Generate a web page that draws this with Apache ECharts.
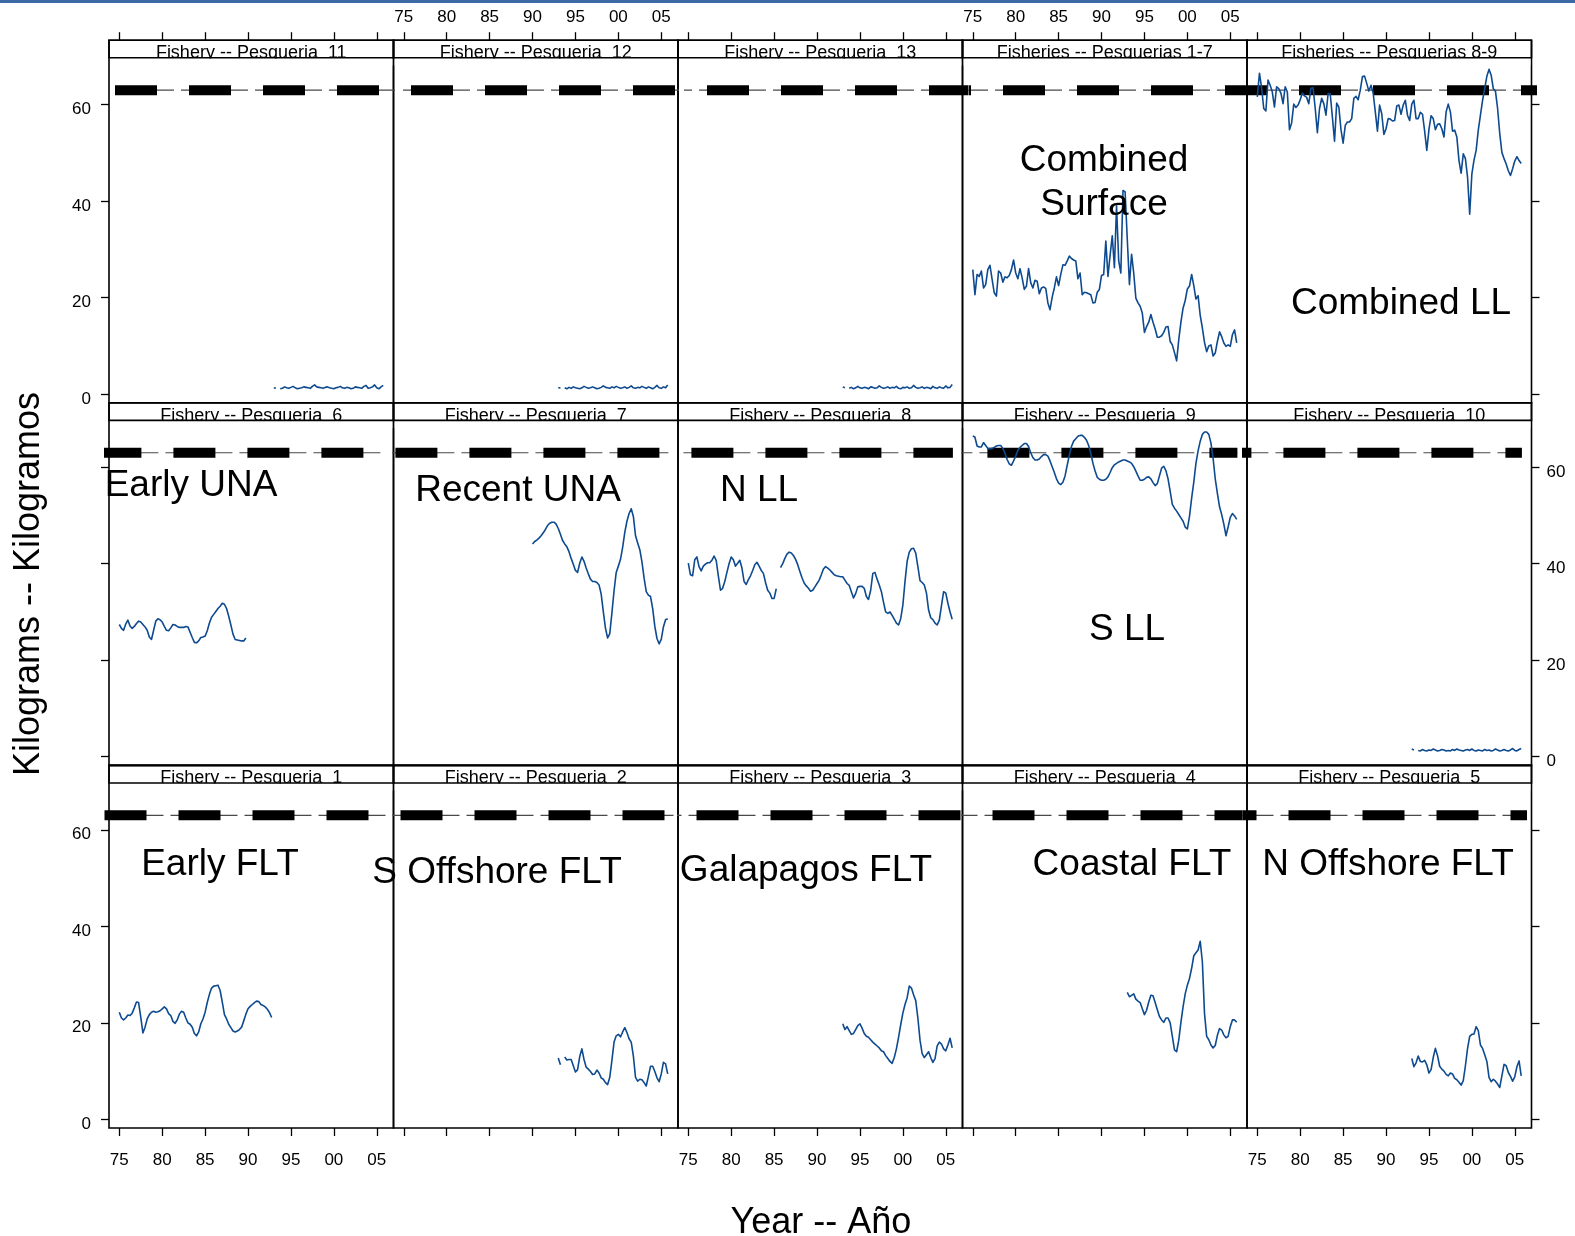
<!DOCTYPE html>
<html>
<head>
<meta charset="utf-8">
<script src="https://cdn.jsdelivr.net/npm/echarts/dist/echarts.min.js"></script>
<style>
  html, body { margin: 0; padding: 0; background: #fff; }
  #chart { width: 1575px; height: 1236px; }
</style>
</head>
<body>
<div id="chart"></div>
<script>
// Average weight (kg) by fishery, quarterly series.

const yearTicks = [1975, 1980, 1985, 1990, 1995, 2000, 2005];
const weightTicks = [0, 20, 40, 60];
const referenceWeight = 63.0;

// Fisheries 1-7 combined, quarterly from 1975
const combinedSurface = [
  25.8,20.6,24.8,24.4,25.5,22.0,22.7,25.8,26.7,23.8,
  21.0,20.3,25.5,25.1,23.2,24.3,24.1,24.6,25.8,27.8,
  25.1,23.9,26.0,24.1,21.7,22.4,26.0,23.1,22.0,23.6,
  23.4,20.8,22.0,22.2,21.9,18.9,17.5,20.1,22.0,24.3,
  22.5,24.8,26.8,26.7,27.6,28.6,28.1,27.8,27.6,23.9,
  25.1,20.6,21.1,21.0,20.8,20.6,18.9,19.0,21.1,21.7,
  24.6,24.8,31.7,24.4,28.8,32.8,26.2,39.0,27.6,25.1,
  42.2,41.9,32.1,22.7,29.0,25.1,19.9,18.9,18.2,16.8,
  12.8,14.0,14.9,16.5,14.9,13.5,11.8,11.8,12.1,12.8,
  13.9,14.0,10.9,10.2,8.6,6.9,11.3,14.9,17.8,19.4,
  21.8,22.4,24.8,22.5,19.7,20.4,16.3,13.7,10.7,8.8,
  10.0,10.2,7.9,8.5,10.9,12.9,11.9,10.6,9.9,10.2,
  9.9,12.3,13.3,10.6
];

// Fisheries 8-9 combined, quarterly from 1975
const combinedLL = [
  61.6,66.5,63.5,59.2,58.7,65.1,64.0,62.6,59.5,63.7,
  63.3,62.4,60.2,63.7,62.6,54.8,56.2,60.1,59.4,59.9,
  61.0,62.4,61.8,61.5,60.2,63.4,63.5,59.2,54.2,59.2,
  61.3,60.2,57.8,62.3,62.2,57.4,52.4,60.3,59.5,54.8,
  52.0,55.7,56.4,56.4,57.1,61.3,61.7,61.0,63.0,65.8,
  65.9,64.4,62.8,64.0,62.4,58.5,54.5,59.9,58.1,53.8,
  55.0,57.1,57.0,56.6,56.7,59.7,59.9,58.0,59.9,60.9,
  57.8,56.7,60.1,60.9,57.1,57.1,58.4,58.0,54.5,50.5,
  54.8,57.7,57.1,54.8,55.9,56.0,55.0,53.3,58.5,60.1,
  58.5,54.5,54.7,53.3,48.4,45.8,49.8,48.8,44.9,37.3,
  45.6,48.5,50.5,54.7,57.8,60.9,63.3,65.9,67.3,66.1,
  63.3,62.8,59.2,54.0,50.1,48.8,47.7,46.3,45.3,46.7,
  48.3,49.2,48.4,47.8
];

// Fishery 6, quarterly from 1975
const earlyUNA = [
  27.4,26.6,26.2,27.5,28.3,27.1,26.6,27.0,27.6,28.1,
  27.9,27.4,26.9,26.2,24.8,24.3,26.2,28.1,28.6,28.4,
  27.9,27.0,26.2,26.1,26.7,27.4,27.3,27.0,26.8,26.8,
  26.8,27.0,26.9,25.8,24.7,23.7,23.6,24.0,24.7,24.8,
  25.0,26.1,27.7,28.9,29.5,30.1,30.7,31.2,31.8,31.6,
  30.7,29.1,27.3,25.4,24.3,24.2,24.1,24.0,24.0,24.6
];

// Fishery 7, quarterly from 1990
const recentUNA = [
  44.1,44.6,44.9,45.3,45.8,46.4,47.1,47.9,48.4,48.6,
  48.6,48.2,47.3,46.1,44.8,44.1,43.5,42.5,41.1,39.9,
  38.6,38.2,40.1,41.4,40.5,39.1,37.9,36.8,36.3,36.3,
  36.1,35.6,33.7,30.0,26.6,24.6,25.5,29.8,34.4,38.2,
  39.5,40.9,43.4,46.5,48.8,50.4,51.4,49.8,45.8,44.3,
  42.9,40.4,37.0,34.2,33.5,33.2,30.7,27.0,24.5,23.4,
  24.3,26.9,28.4,28.6
];

// Fishery 8, quarterly from 1975
const northLL = [
  40.1,37.7,37.5,40.8,41.4,39.4,38.5,39.5,39.9,40.2,
  40.2,40.7,41.6,40.7,37.5,34.5,34.9,36.3,38.2,40.0,
  41.4,40.8,39.5,40.1,40.7,39.1,36.3,35.7,36.7,37.5,
  38.6,39.8,40.3,39.5,38.6,38.0,36.1,34.5,33.9,32.8,
  32.8,34.8,null,39.2,40.0,41.1,42.0,42.4,42.2,41.7,
  40.9,39.8,38.4,37.1,36.0,35.4,34.9,34.3,34.5,35.2,
  35.9,36.6,37.7,38.9,39.4,39.1,38.7,38.2,37.7,37.5,
  37.4,37.3,37.3,36.6,35.9,35.5,34.2,32.9,33.8,35.2,
  35.3,35.3,34.9,33.2,32.6,34.5,38.0,38.2,36.8,35.6,
  34.2,32.0,30.0,29.7,30.0,29.3,28.5,27.7,27.3,28.6,
  31.4,36.3,40.5,42.4,43.1,43.2,42.2,39.4,36.5,36.1,
  35.6,33.9,30.4,28.8,28.4,27.7,27.3,28.3,31.3,34.2,
  33.9,31.8,30.0,28.5
];

// Fishery 9, quarterly from 1975
const southLL = [
  66.5,66.2,64.4,64.2,64.2,65.1,64.5,63.9,63.8,63.9,
  64.1,64.4,64.5,64.5,63.9,62.9,61.6,60.7,60.4,61.3,
  62.3,63.5,64.1,64.5,64.9,64.9,64.3,63.0,62.0,61.5,
  61.5,61.7,62.2,62.6,62.6,62.3,61.3,60.1,58.9,57.6,
  56.7,56.4,56.9,58.2,60.4,62.5,64.3,65.4,65.9,66.4,
  66.6,66.6,66.2,65.6,64.5,62.9,60.8,59.2,57.9,57.5,
  57.3,57.3,57.5,58.0,58.9,59.9,60.5,60.8,61.1,61.3,
  61.5,61.5,61.3,61.1,60.8,60.1,59.2,58.2,57.3,57.3,
  57.5,57.9,58.0,57.6,56.8,56.2,56.6,58.2,59.8,60.2,
  59.3,57.6,55.0,52.3,51.5,50.9,50.2,49.5,48.8,47.6,
  47.2,49.8,53.6,56.9,60.8,63.4,65.4,66.8,67.3,67.3,
  66.8,65.0,61.8,57.6,54.6,51.8,50.2,48.2,45.8,47.6,
  49.6,50.4,49.9,49.2
];

// Fishery 1, quarterly from 1975
const earlyFLT = [
  22.2,21.0,20.6,21.0,21.6,21.5,22.0,23.1,24.3,24.2,
  21.2,17.9,19.1,20.8,21.7,22.2,22.4,22.2,22.3,22.5,
  22.9,23.3,22.9,21.9,21.5,20.3,19.9,20.6,21.8,22.4,
  22.2,21.0,20.0,19.7,19.1,17.8,17.3,18.1,19.8,20.8,
  22.2,24.2,25.9,27.2,27.6,27.7,27.8,26.7,24.3,21.7,
  20.8,19.7,19.0,18.3,18.1,18.3,18.6,19.1,20.4,21.8,
  22.9,23.4,23.8,24.2,24.5,24.4,23.8,23.6,23.3,22.8,
  22.1,21.1
];

// Fisheries 2-5 and 10-13, quarterly from 1993
const southOffshoreFLT = [
  12.7,11.3,null,12.9,12.3,12.4,12.4,11.1,9.8,10.3,
  13.0,14.6,12.4,10.8,10.4,9.9,9.3,9.4,10.2,9.6,
  8.6,8.3,7.6,7.2,8.7,12.2,16.0,17.3,17.6,17.1,
  18.1,19.0,18.0,16.7,16.0,13.1,8.7,7.9,8.3,8.2,
  7.6,6.9,8.9,11.0,11.0,9.9,8.6,7.8,9.4,11.8,
  11.5,9.4
];
const galapagosFLT = [
  19.8,18.6,19.2,18.4,17.6,17.8,18.6,19.4,19.8,18.9,
  17.8,17.2,17.0,16.5,16.0,15.6,15.2,14.8,14.2,14.0,
  13.2,12.6,12.0,11.6,12.8,14.6,17.0,19.6,22.0,23.8,
  25.2,27.6,27.2,25.8,24.6,21.0,16.4,13.6,12.8,13.4,
  14.0,12.8,11.8,12.6,15.2,16.0,15.6,14.6,14.2,15.4,
  16.8,14.8
];
const coastalFLT = [
  26.3,25.4,25.7,26.0,24.9,24.5,24.2,22.9,21.7,22.6,
  24.3,25.7,25.6,24.2,22.7,21.3,20.6,20.1,21.0,21.0,
  20.0,17.2,14.4,14.0,16.4,20.1,23.3,26.0,27.8,29.2,
  31.3,33.9,34.5,35.1,36.9,32.6,21.9,17.2,16.5,15.4,
  14.8,15.3,17.4,18.8,18.5,17.5,16.9,17.2,19.2,20.6,
  20.6,20.1
];
const northOffshoreFLT = [
  12.6,10.9,11.7,13.1,12.0,11.9,12.2,11.3,9.6,10.3,
  12.8,14.7,13.2,11.0,10.4,10.0,9.3,9.0,9.6,9.4,
  8.5,8.2,7.7,7.1,8.0,11.1,14.7,17.2,17.6,17.7,
  19.2,18.4,15.4,14.7,13.4,12.0,8.7,7.8,8.3,7.9,
  7.3,6.6,9.0,11.4,11.1,9.7,8.9,7.9,8.8,10.9,
  12.1,9.0
];
const discard10 = [
  1.6,1.4,null,1.3,1.2,1.5,1.3,1.2,1.4,1.3,
  1.6,1.4,1.2,1.3,1.5,1.4,1.2,1.3,1.2,1.5,
  1.3,1.6,1.4,1.3,1.2,1.4,1.5,1.3,1.6,1.3,
  1.2,1.4,1.3,1.2,1.5,1.3,1.4,1.2,1.3,1.6,
  1.4,1.2,1.3,1.5,1.3,1.2,1.4,1.7,1.3,1.2,
  1.5,1.7
];
const discard11 = [
  1.3,1.2,null,1.1,1.2,1.5,1.3,1.2,1.4,1.6,
  1.3,1.1,1.2,1.3,1.5,1.4,1.3,1.2,1.6,1.9,
  1.5,1.4,1.3,1.2,1.4,1.5,1.3,1.2,1.1,1.3,
  1.4,1.6,1.3,1.2,1.4,1.3,1.1,1.2,1.5,1.4,
  1.3,1.2,1.6,1.8,1.2,1.3,1.5,1.9,1.3,1.1,
  1.5,1.8
];
const discard12 = [
  1.4,1.2,null,1.3,1.1,1.4,1.2,1.5,1.3,1.2,
  1.1,1.3,1.6,1.4,1.2,1.3,1.5,1.3,1.1,1.2,
  1.4,1.7,1.4,1.3,1.2,1.5,1.3,1.6,1.4,1.2,
  1.3,1.5,1.2,1.4,1.7,1.3,1.2,1.4,1.3,1.6,
  1.4,1.2,1.5,1.3,1.1,1.4,1.8,1.3,1.2,1.5,
  1.3,1.9
];
const discard13 = [
  1.5,1.3,null,1.2,1.4,1.1,1.3,1.6,1.3,1.2,
  1.4,1.3,1.1,1.5,1.4,1.2,1.3,1.7,1.4,1.2,
  1.3,1.5,1.2,1.4,1.3,1.6,1.2,1.1,1.4,1.3,
  1.5,1.2,1.3,1.8,1.4,1.2,1.3,1.5,1.2,1.4,
  1.3,1.1,1.6,1.3,1.2,1.5,1.3,1.2,1.7,1.3,
  1.4,2.0
];

// Panels in row-major order (top row first)
const panels = [
  { strip: 'Fishery -- Pesqueria  11', start: 1993, values: discard11 },
  { strip: 'Fishery -- Pesqueria  12', start: 1993, values: discard12 },
  { strip: 'Fishery -- Pesqueria  13', start: 1993, values: discard13 },
  { strip: 'Fisheries -- Pesquerias 1-7', start: 1975, values: combinedSurface },
  { strip: 'Fisheries -- Pesquerias 8-9', start: 1975, values: combinedLL },
  { strip: 'Fishery -- Pesqueria  6', start: 1975, values: earlyUNA },
  { strip: 'Fishery -- Pesqueria  7', start: 1990, values: recentUNA },
  { strip: 'Fishery -- Pesqueria  8', start: 1975, values: northLL },
  { strip: 'Fishery -- Pesqueria  9', start: 1975, values: southLL },
  { strip: 'Fishery -- Pesqueria  10', start: 1993, values: discard10 },
  { strip: 'Fishery -- Pesqueria  1', start: 1975, values: earlyFLT },
  { strip: 'Fishery -- Pesqueria  2', start: 1993, values: southOffshoreFLT },
  { strip: 'Fishery -- Pesqueria  3', start: 1993, values: galapagosFLT },
  { strip: 'Fishery -- Pesqueria  4', start: 1993, values: coastalFLT },
  { strip: 'Fishery -- Pesqueria  5', start: 1993, values: northOffshoreFLT }
];

// Large in-panel names (page pixel positions of the text centre)
const panelNames = [
  { text: 'Combined\nSurface', x: 1104, y: 182.5 },
  { text: 'Combined LL', x: 1401, y: 303.5 },
  { text: 'Early UNA', x: 191, y: 485.5 },
  { text: 'Recent UNA', x: 518, y: 490.5 },
  { text: 'N LL', x: 759, y: 490.5 },
  { text: 'S LL', x: 1127, y: 629.5 },
  { text: 'Early FLT', x: 220, y: 864.5 },
  { text: 'S Offshore FLT', x: 497, y: 872.5 },
  { text: 'Galapagos FLT', x: 806, y: 870.5 },
  { text: 'Coastal FLT', x: 1132, y: 864.5 },
  { text: 'N Offshore FLT', x: 1388, y: 864.5 }
];

// ---- layout ----
const FONT = "'Liberation Sans', Arial, Helvetica, sans-serif";
const L = { left: 109, top: 40.2, colW: 284.5, rowH: 362.6, stripH: 17.6, cols: 5, rows: 3 };
const X_MIN = 1973.8, X_MAX = 2006.95;
const Y_MIN = -1.8, Y_MAX_PLOT = 69.7;
const pxPerUnit = (L.rowH - L.stripH) / (Y_MAX_PLOT - Y_MIN);
const Y_MAX = Y_MAX_PLOT + L.stripH / pxPerUnit;   // strip sits inside the grid box
const pxPerYear = L.colW / (X_MAX - X_MIN);
const refShiftPx = [6, -9.6, -4.5];                // per-row horizontal phase of the reference line
const LINE_BLUE = '#0e4a8f';

const quarterly = (start, values) => values.map((v, i) => [start + i / 4, v]);
const yy = v => String(Math.round(v) % 100).padStart(2, '0');

const grids = [], xAxes = [], yAxes = [], series = [], graphics = [];

graphics.push({ type: 'rect', shape: { x: 0, y: 0, width: 1575, height: 3 }, style: { fill: '#3c6aa4' }, z: 30 });

panels.forEach((p, k) => {
  const r = Math.floor(k / L.cols), c = k % L.cols;
  const gl = L.left + c * L.colW, gt = L.top + r * L.rowH;

  grids.push({ left: gl, top: gt, width: L.colW, height: L.rowH, show: true,
    borderColor: '#000', borderWidth: 1.6, backgroundColor: 'transparent', containLabel: false });

  const showXLabels = (r === 0 && c % 2 === 1) || (r === 2 && c % 2 === 0);
  xAxes.push({
    gridIndex: k, type: 'value', min: X_MIN, max: X_MAX,
    position: r === 0 ? 'top' : 'bottom', show: r !== 1,
    axisLine: { show: false, onZero: false }, splitLine: { show: false },
    axisTick: { show: true, length: 8, customValues: yearTicks, lineStyle: { color: '#000', width: 1.3 } },
    axisLabel: { show: showXLabels, customValues: yearTicks, formatter: yy,
      margin: r === 0 ? 14 : 24, fontSize: 17, color: '#000', fontFamily: FONT }
  });

  const showYLabels = (c === 0 && r !== 1) || (c === 4 && r === 1);
  yAxes.push({
    gridIndex: k, type: 'value', min: Y_MIN, max: Y_MAX,
    position: c === 4 ? 'right' : 'left', show: c === 0 || c === 4,
    axisLine: { show: false, onZero: false }, splitLine: { show: false },
    axisTick: { show: true, length: 8, customValues: weightTicks, lineStyle: { color: '#000', width: 1.3 } },
    axisLabel: { show: showYLabels, customValues: weightTicks, verticalAlign: 'top', lineHeight: 10,
      margin: c === 4 ? 15 : 18, fontSize: 17, color: '#000', fontFamily: FONT }
  });

  // dashed reference weight, phase continuous along each row
  const shiftYears = refShiftPx[r] / pxPerYear;
  const refData = [[X_MIN + shiftYears, referenceWeight], [X_MAX + shiftYears, referenceWeight]];
  const phase = c * L.colW;
  series.push({
    type: 'line', xAxisIndex: k, yAxisIndex: k, data: refData, clip: false,
    showSymbol: false, silent: true, z: 3, animation: false,
    lineStyle: { color: '#4a4a4a', width: 1.2, type: [67, 7], dashOffset: 8 + phase }
  });
  series.push({
    type: 'line', xAxisIndex: k, yAxisIndex: k, data: refData, clip: false,
    showSymbol: false, silent: true, z: 4, animation: false,
    lineStyle: { color: '#000', width: 10, type: [42, 32], dashOffset: phase, cap: 'butt' }
  });

  series.push({
    type: 'line', xAxisIndex: k, yAxisIndex: k, data: quarterly(p.start, p.values),
    showSymbol: false, connectNulls: false, z: 6, animation: false,
    lineStyle: { color: LINE_BLUE, width: 1.6, join: 'round' }
  });

  // strip header: baseline sits on the strip's lower rule, descenders hidden
  graphics.push({ type: 'text', x: gl + L.colW / 2, y: gt + L.stripH - 4.5, z: 40,
    style: { text: p.strip, font: '18px ' + FONT, fill: '#000',
      textAlign: 'center', textVerticalAlign: 'middle', align: 'center', verticalAlign: 'middle' } });
  graphics.push({ type: 'rect', z: 41,
    shape: { x: gl + 1.2, y: gt + L.stripH + 0.6, width: L.colW - 2.4, height: 7 },
    style: { fill: '#fff' } });
  graphics.push({ type: 'rect', z: 42,
    shape: { x: gl, y: gt, width: L.colW, height: L.stripH },
    style: { fill: 'none', stroke: '#000', lineWidth: 1.6 } });
});

panelNames.forEach(n => {
  graphics.push({ type: 'text', x: n.x, y: n.y, z: 50,
    style: { text: n.text, font: '37px ' + FONT, fill: '#000', lineHeight: 44,
      textAlign: 'center', textVerticalAlign: 'middle', align: 'center', verticalAlign: 'middle' } });
});

graphics.push({ type: 'text', x: 29, y: 584, rotation: Math.PI / 2, z: 50,
  style: { text: 'Kilograms -- Kilogramos', font: '36px ' + FONT, fill: '#000',
    textAlign: 'center', textVerticalAlign: 'middle', align: 'center', verticalAlign: 'middle' } });
graphics.push({ type: 'text', x: 821, y: 1223, z: 50,
  style: { text: 'Year -- Año', font: '36px ' + FONT, fill: '#000',
    textAlign: 'center', textVerticalAlign: 'middle', align: 'center', verticalAlign: 'middle' } });

const chart = echarts.init(document.getElementById('chart'), null, { renderer: 'canvas', width: 1575, height: 1236 });
chart.setOption({
  animation: false,
  backgroundColor: '#fff',
  textStyle: { fontFamily: FONT },
  grid: grids,
  xAxis: xAxes,
  yAxis: yAxes,
  series: series,
  graphic: { elements: graphics }
});
</script>
</body>
</html>
